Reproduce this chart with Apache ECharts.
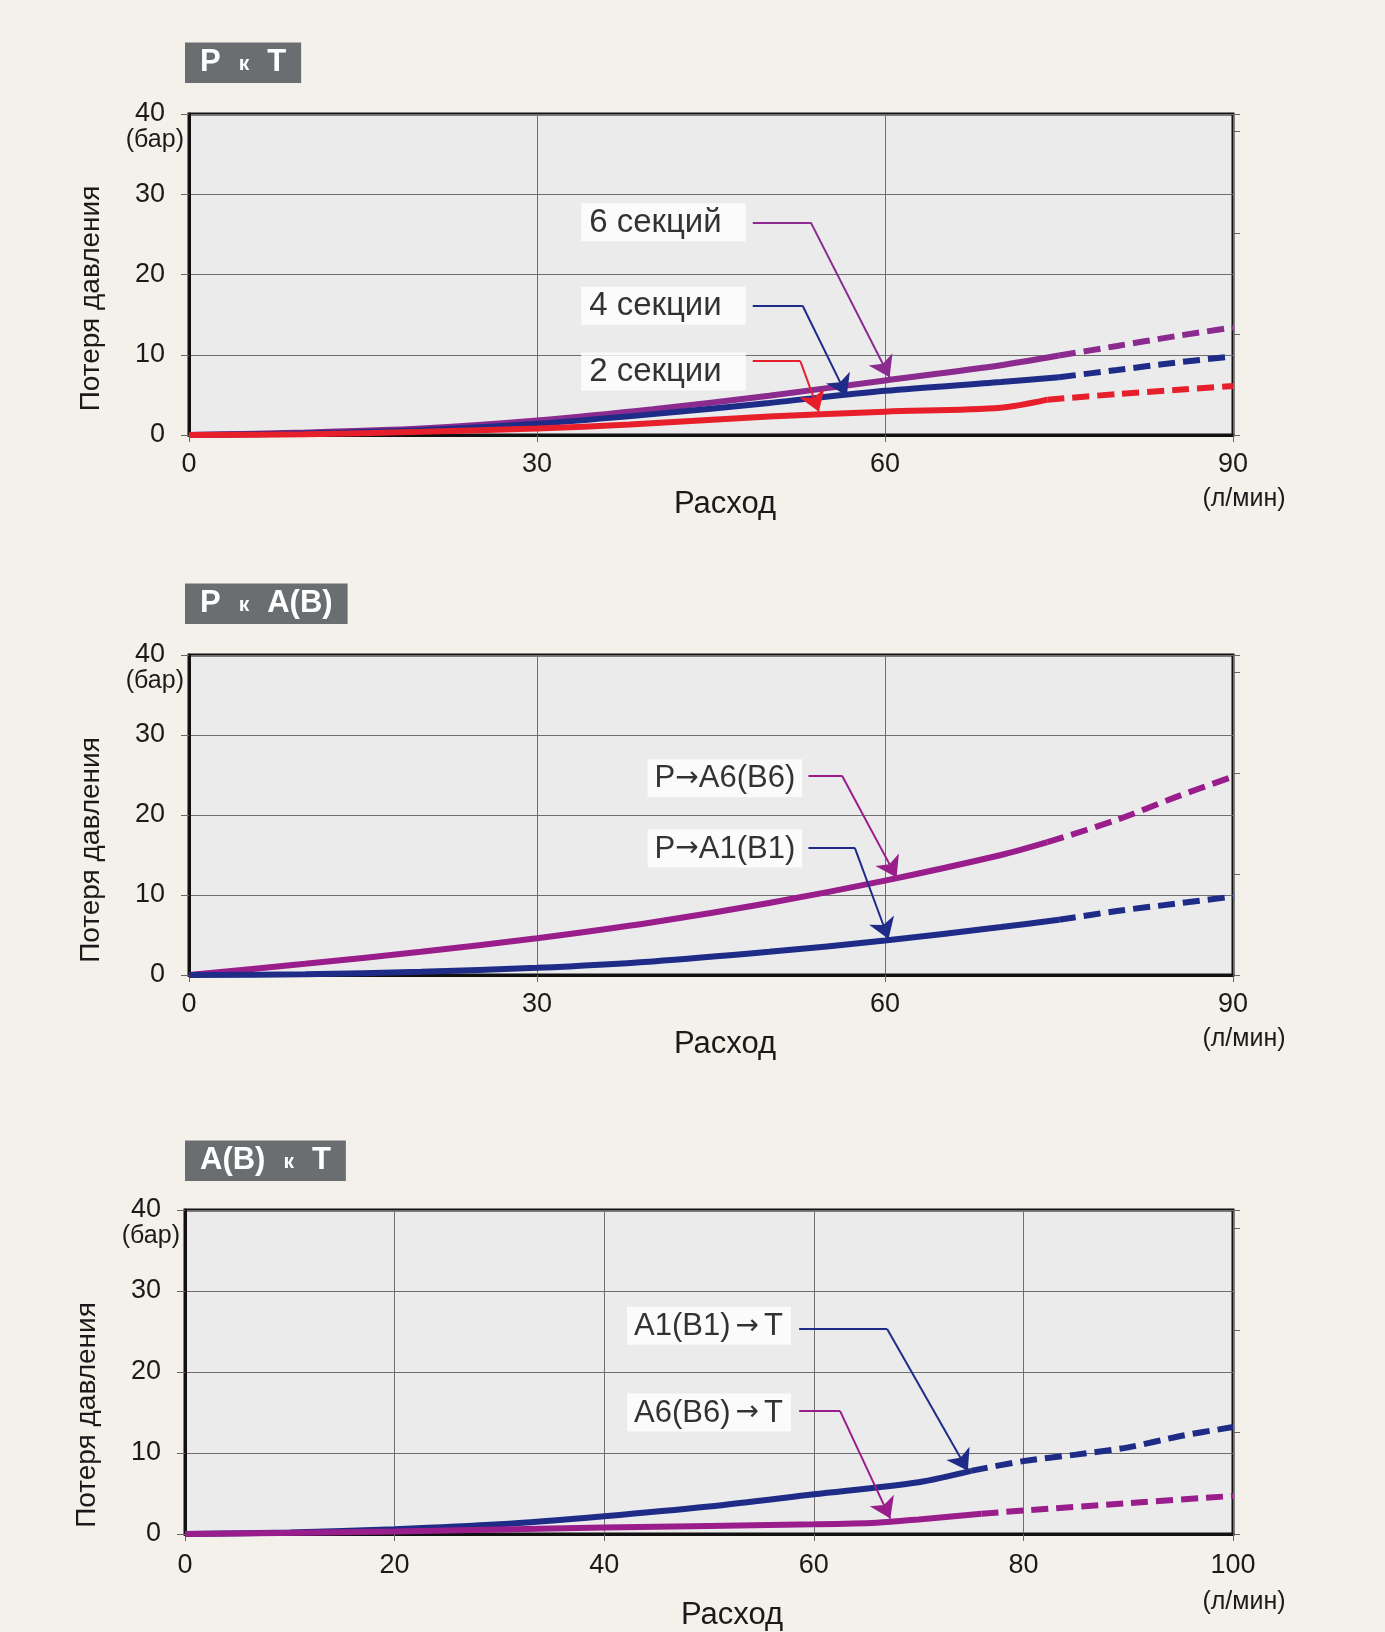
<!DOCTYPE html>
<html><head><meta charset="utf-8">
<script src="https://cdn.jsdelivr.net/npm/echarts@6/dist/echarts.min.js"></script>
<style>html,body{margin:0;padding:0;background:#f4f1ea}#c{width:1385px;height:1632px}</style>
</head><body><div id="c"></div>
<script>
// ---------- DATA ----------
// Chart 1: P к T
const c1Title = ['P', 'к', 'T'];
const c1XTicks = [0, 30, 60, 90];
const c1_6s_x = [0, 10, 20, 30, 40, 50, 60, 70, 75];
const c1_6s_y = [0, 0.3, 0.8, 1.8, 3.2, 4.9, 6.8, 8.7, 9.9];
const c1_6s_dx = [75, 80, 85, 90];
const c1_6s_dy = [9.9, 11.1, 12.3, 13.4];
const c1_4s_x = [0, 10, 20, 30, 40, 50, 60, 70, 75];
const c1_4s_y = [0, 0.2, 0.6, 1.4, 2.6, 4.0, 5.5, 6.6, 7.2];
const c1_4s_dx = [75, 80, 85, 90];
const c1_4s_dy = [7.2, 8.1, 9.0, 9.8];
const c1_2s_x = [0, 10, 20, 30, 38, 50, 60, 70, 74];
const c1_2s_y = [0, 0.1, 0.4, 0.8, 1.3, 2.3, 2.9, 3.4, 4.4];
const c1_2s_dx = [74, 80, 85, 90];
const c1_2s_dy = [4.4, 5.1, 5.6, 6.1];

// Chart 2: P к A(B)
const c2Title = ['P', 'к', 'A(B)'];
const c2XTicks = [0, 30, 60, 90];
const c2_a6_x = [0, 10, 20, 30, 40, 50, 60, 70, 74];
const c2_a6_y = [0, 1.4, 2.9, 4.6, 6.6, 9.0, 11.8, 15.0, 16.6];
const c2_a6_dx = [74, 80, 85, 90];
const c2_a6_dy = [16.6, 19.4, 22.2, 24.8];
const c2_a1_x = [0, 10, 20, 30, 40, 50, 60, 70, 75];
const c2_a1_y = [0, 0.1, 0.4, 0.9, 1.7, 2.9, 4.3, 6.0, 6.9];
const c2_a1_dx = [75, 80, 85, 90];
const c2_a1_dy = [6.9, 8.0, 8.9, 9.8];

// Chart 3: A(B) к T
const c3Title = ['A(B)', 'к', 'T'];
const c3XTicks = [0, 20, 40, 60, 80, 100];
const c3_b1_x = [0, 10, 20, 30, 40, 50, 60, 70, 75];
const c3_b1_y = [0, 0.2, 0.6, 1.2, 2.2, 3.4, 4.9, 6.4, 7.8];
const c3_b1_dx = [75, 80, 85, 90, 95, 100];
const c3_b1_dy = [7.8, 9.0, 9.8, 10.7, 12.1, 13.2];
const c3_b6_x = [0, 20, 40, 60, 66, 70, 76];
const c3_b6_y = [0, 0.3, 0.8, 1.2, 1.4, 1.8, 2.5];
const c3_b6_dx = [76, 80, 90, 100];
const c3_b6_dy = [2.5, 2.9, 3.8, 4.7];

const yTicks = [0, 10, 20, 30, 40];

// Callout labels (text, anchor and leader path in data coordinates)
const c1Notes = [
  { text: '6 секций', at: [40.9, 26.5], path: [[48.6, 26.5], [53.6, 26.5], [60.4, 7.2]], c: 'purple' },
  { text: '4 секции', at: [40.9, 16.1], path: [[48.6, 16.1], [52.9, 16.1], [56.7, 4.9]], c: 'blue' },
  { text: '2 секции', at: [40.9, 7.9], path: [[48.6, 9.2], [52.7, 9.2], [54.3, 2.9]], c: 'red' }
];
const c2Notes = [
  { text: 'P{a|\u2192}A6(B6)', at: [46.2, 24.6], path: [[53.4, 24.9], [56.3, 24.9], [61.0, 12.2]], c: 'magenta' },
  { text: 'P{a|\u2192}A1(B1)', at: [46.2, 15.8], path: [[53.4, 15.9], [57.4, 15.9], [60.3, 4.5]], c: 'blue' }
];
const c3Notes = [
  { text: 'A1(B1){a|\u2192}T', at: [50.0, 25.7], path: [[58.6, 25.3], [67.0, 25.3], [74.7, 7.8]], c: 'blue' },
  { text: 'A6(B6){a|\u2192}T', at: [50.0, 15.0], path: [[58.6, 15.2], [62.5, 15.2], [67.3, 1.9]], c: 'magenta' }
];

// ---------- STYLE ----------
const COL = { purple: '#8b2a8f', magenta: '#9a1d8c', blue: '#1e2c88', red: '#e61f2b' };
const FONT = '"Liberation Sans", Arial, sans-serif';
const grids = [
  { left: 189, top: 114, width: 1044, height: 321 },
  { left: 189, top: 655, width: 1044, height: 320 },
  { left: 185, top: 1210, width: 1048, height: 340 }
];
const xMax = [90, 90, 100];
const xInt = [30, 30, 20];
const xNameGap = [54, 54, 66];
const xNamePad = [28, 28, 46];
const xLabMargin = [15, 15, 17];
const yNamePad = [48, 70, 86];

function zip(xs, ys) { return xs.map((x, i) => [x, ys[i]]); }

const chart = echarts.init(document.getElementById('c'));
const option = {
  backgroundColor: '#f4f1ea',
  animation: false,
  textStyle: { fontFamily: FONT },
  title: [],
  grid: [],
  xAxis: [],
  yAxis: [],
  series: []
};

const titles = [c1Title, c2Title, c3Title];
const titleTops = [41, 582, 1139];
titles.forEach((t, i) => {
  option.title.push({
    text: '{b|' + t[0] + '}  {s|' + t[1] + '}  {b|' + t[2] + '}',
    left: 185, top: titleTops[i],
    backgroundColor: '#6b6e70',
    padding: [4, 15, 4, 15],
    textStyle: {
      fontSize: 18,
      rich: {
        b: { fontSize: 31, fontWeight: 'bold', color: '#ffffff', fontFamily: FONT, lineHeight: 34 },
        s: { fontSize: 21, fontWeight: 'bold', color: '#ffffff', fontFamily: FONT, lineHeight: 22,
             verticalAlign: 'bottom', padding: [0, 8, 4, 8] }
      }
    }
  });
});

grids.forEach((g, i) => {
  option.grid.push(Object.assign({
    show: true, backgroundColor: '#ebebec', borderColor: '#111', borderWidth: 3, containLabel: false
  }, g));
  const last = xMax[i];
  option.xAxis.push({
    type: 'value', gridIndex: i, min: 0, max: last, interval: xInt[i],
    name: 'Расход', nameLocation: 'middle', nameGap: xNameGap[i], nameMoveOverlap: false,
    nameTextStyle: { fontSize: 31, color: '#1a1a1a', fontFamily: FONT, padding: [0, 0, 0, xNamePad[i]] },
    axisLine: { show: true, onZero: false, lineStyle: { color: '#111', width: 3 } },
    axisTick: { show: true, length: 7, lineStyle: { color: '#666', width: 1 } },
    splitLine: { show: true, lineStyle: { color: '#6f6f6f', width: 1 } },
    axisLabel: {
      margin: xLabMargin[i],
      formatter: v => v === last ? '{v|' + v + '}\n{u|(л/мин)}' : '{v|' + v + '}',
      rich: {
        v: { fontSize: 27, color: '#1a1a1a', fontFamily: FONT, lineHeight: 30 },
        u: { fontSize: 25, color: '#1a1a1a', fontFamily: FONT, lineHeight: i === 2 ? 42 : 38, padding: [0, 0, 0, 22] }
      }
    }
  });
  option.yAxis.push({
    type: 'value', gridIndex: i, min: 0, max: 40, interval: 10,
    name: 'Потеря давления', nameLocation: 'middle', nameGap: 84,
    nameTextStyle: { fontSize: 28, color: '#1a1a1a', fontFamily: FONT, padding: [0, yNamePad[i], 0, 0] },
    axisLine: { show: true, lineStyle: { color: '#111', width: 3 } },
    axisTick: { show: true, length: 8, lineStyle: { color: '#666', width: 1 } },
    splitLine: { show: true, lineStyle: { color: '#6f6f6f', width: 1 } },
    axisLabel: {
      margin: 5,
      formatter: v => v === 40 ? '{e| }\n{v|40}\n{u|(бар)}' : '{v|' + v + '}',
      rich: {
        v: { fontSize: 27, color: '#1a1a1a', fontFamily: FONT, lineHeight: 27, padding: [0, 19, 0, 0] },
        u: { fontSize: 25, color: '#1a1a1a', fontFamily: FONT, lineHeight: 25 },
        e: { fontSize: 25, lineHeight: 25 }
      }
    }
  });
});
// secondary right-hand tick scales (unlabelled)
grids.forEach((g, i) => {
  option.yAxis.push({
    type: 'value', gridIndex: i, position: 'right', min: 0, max: 40 / 12.6, interval: 1,
    axisLine: { show: false }, axisLabel: { show: false }, splitLine: { show: false },
    axisTick: { show: true, length: 7, lineStyle: { color: '#666', width: 1 } }
  });
});

function curve(gi, xs, ys, color, dashed) {
  option.series.push({
    type: 'line', xAxisIndex: gi, yAxisIndex: gi, data: zip(xs, ys),
    smooth: 0.3, showSymbol: false, symbol: 'none', z: 3,
    lineStyle: { color: color, width: 6, type: dashed ? [17, 8] : 'solid', cap: 'butt' }
  });
}
curve(0, c1_6s_x, c1_6s_y, COL.purple, false); curve(0, c1_6s_dx, c1_6s_dy, COL.purple, true);
curve(0, c1_4s_x, c1_4s_y, COL.blue, false); curve(0, c1_4s_dx, c1_4s_dy, COL.blue, true);
curve(0, c1_2s_x, c1_2s_y, COL.red, false); curve(0, c1_2s_dx, c1_2s_dy, COL.red, true);
curve(1, c2_a6_x, c2_a6_y, COL.magenta, false); curve(1, c2_a6_dx, c2_a6_dy, COL.magenta, true);
curve(1, c2_a1_x, c2_a1_y, COL.blue, false); curve(1, c2_a1_dx, c2_a1_dy, COL.blue, true);
curve(2, c3_b1_x, c3_b1_y, COL.blue, false); curve(2, c3_b1_dx, c3_b1_dy, COL.blue, true);
curve(2, c3_b6_x, c3_b6_y, COL.magenta, false); curve(2, c3_b6_dx, c3_b6_dy, COL.magenta, true);

function notes(gi, list, fs, pad, arrowPad) {
  // horizontal leader part
  option.series.push({
    type: 'lines', coordinateSystem: 'cartesian2d', xAxisIndex: gi, yAxisIndex: gi,
    z: 6, silent: true, symbol: ['none', 'none'],
    data: list.map(n => ({ coords: [n.path[0], n.path[1]], lineStyle: { color: COL[n.c], width: 2, opacity: 1 } }))
  });
  // slanted part with arrow head
  option.series.push({
    type: 'lines', coordinateSystem: 'cartesian2d', xAxisIndex: gi, yAxisIndex: gi,
    z: 6, silent: true, symbol: ['none', 'arrow'], symbolSize: [11, 20],
    data: list.map(n => ({ coords: [n.path[1], n.path[2]], lineStyle: { color: COL[n.c], width: 2, opacity: 1 } }))
  });
  option.series.push({
    type: 'scatter', xAxisIndex: gi, yAxisIndex: gi, symbolSize: 1, z: 7, silent: true,
    itemStyle: { color: 'rgba(0,0,0,0)' },
    data: list.map(n => ({
      value: n.at,
      label: {
        show: true, position: 'inside', formatter: n.text,
        fontSize: fs, lineHeight: 33, color: '#000', fontFamily: FONT,
        backgroundColor: '#ffffff', padding: pad,
        rich: { a: { fontFamily: '"DejaVu Sans", sans-serif', fontSize: 28, color: '#000', lineHeight: 33, padding: [0, arrowPad, 0, arrowPad] } }
      }
    }))
  });
}
notes(0, c1Notes, 33, [3, 24, 2, 8], 0);
notes(1, c2Notes, 31, [3, 7, 2, 7], 0);
notes(2, c3Notes, 31, [3, 8, 2, 7], 5);

chart.setOption(option);
</script></body></html>
